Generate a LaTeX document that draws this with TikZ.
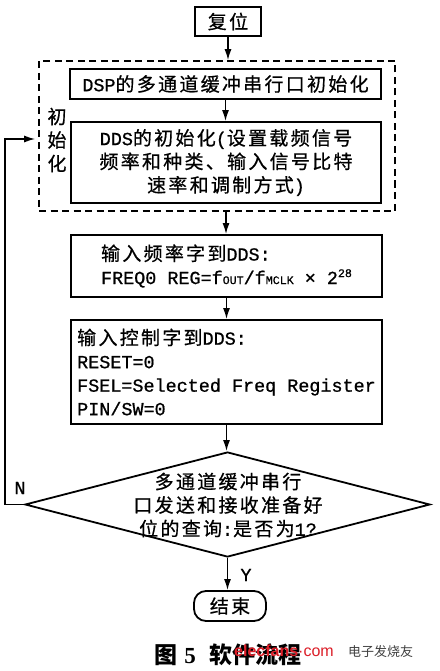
\documentclass[tikz,border=0pt]{standalone}
\usepackage{fontspec}
\usetikzlibrary{shapes.geometric,arrows.meta}
\newfontfamily\cjk[LetterSpace=12,FakeBold=0.6]{Noto Sans CJK SC}
\newfontfamily\cjkplain{Noto Sans CJK SC}
\newfontfamily\latfont[Scale=0.97,FakeBold=0.8]{Liberation Mono}
\newfontfamily\capserif{Liberation Serif}
\newfontfamily\wmsans{Liberation Sans}
\newcommand\latn[1]{{\latfont #1}}
\newcommand\smallcap[1]{{\fontsize{12}{12}\selectfont #1}}
\definecolor{wmred}{RGB}{220,30,40}
\begin{document}
\begin{tikzpicture}[x=1pt,y=-1pt,
  txt/.style={font=\cjk\fontsize{19}{23.5}\selectfont},
  box/.style={draw,line width=1.8pt,rectangle,inner sep=0pt,txt},
  dashbox/.style={draw,line width=1.6pt,dash pattern=on 7pt off 4.5pt,rectangle,inner sep=0pt},
  arr/.style={line width=1.5pt,-{Latex[length=11pt,width=7pt]}},
  lbl/.style={font=\latfont\fontsize{19}{19}\selectfont,inner sep=0pt}]
\fill[white] (0,0) rectangle (439,671);
\useasboundingbox (0,0) rectangle (439,671);
% nodes
\node[box,minimum width=66pt,minimum height=29pt] (reset) at (228,21.5) {复位};
\node[dashbox,minimum width=356pt,minimum height=150pt] (init) at (217,136) {};
\node[box,minimum width=311pt,minimum height=30pt] (dsp) at (225.5,84) {\latn{DSP}的多通道缓冲串行口初始化};
\node[box,minimum width=310pt,minimum height=81pt,align=center] (dds) at (226,162.5)
  {\latn{DDS}的初始化\latn{(}设置载频信号\\频率和种类、输入信号比特\\速率和调制方式\latn{)}};
\node[txt,align=center,inner sep=0pt] (initlbl) at (57,140) {初\\始\\化};
\node[box,minimum width=311pt,minimum height=62pt,align=left] (freq) at (226.5,266)
  {输入频率字到\latn{DDS:}\\\latn{FREQ0 REG=f\smallcap{OUT}/f\smallcap{MCLK} × 2\raisebox{7pt}{\smallcap{28}}}};
\node[box,minimum width=311pt,minimum height=104pt,align=left] (ctrl) at (226.5,372)
  {输入控制字到\latn{DDS:}\\\latn{RESET=0}\\\latn{FSEL=Selected Freq Register}\\\latn{PIN/SW=0}};
\node[diamond,draw,line width=1.8pt,minimum width=405pt,minimum height=105pt,inner sep=0pt] (dec) at (227.5,504.5) {};
\node[txt,align=center,inner sep=0pt] (dectxt) at (228,505) {多通道缓冲串行\\口发送和接收准备好\\位的查询\latn{:}是否为\latn{1?}};
\node[box,rounded corners=12pt,minimum width=72pt,minimum height=30pt] (end) at (230,606) {结束};
\coordinate (loopc) at (5,139);
% connectors
\draw[arr] (reset.south) -- (reset.south |- init.north);
\draw[arr] (dsp.south) -- (dsp.south |- dds.north);
\draw[arr] (dds.south |- init.south) -- (dds.south |- freq.north);
\draw[arr] (freq.south) -- (freq.south |- ctrl.north);
\draw[arr] (ctrl.south) -- (ctrl.south |- dec.north);
\draw[arr] (dec.south) -- (dec.south |- end.north);
\draw[arr] (dec.west) -| (loopc) -- ([xshift=-3pt]init.west |- loopc);
\node[lbl] (nlbl) at (20,488) {N};
\node[lbl] (ylbl) at (246,575) {Y};
% caption
\node[inner sep=0pt] (cap) at (228,655) {{\cjkplain\bfseries\fontsize{23}{23}\selectfont 图}\hspace{7pt}{\capserif\bfseries\fontsize{23}{23}\selectfont 5}\hspace{14pt}{\cjkplain\bfseries\fontsize{23}{23}\selectfont 软件流程}};
\node[inner sep=0pt,anchor=west] (wm) at (234,651) {\color{wmred}\wmsans\fontsize{16}{16}\selectfont\bfseries elecfans\mdseries·com};
\node[inner sep=0pt,anchor=west] (wm2) at (348,652) {\color{black!75}\cjkplain\fontsize{13}{13}\selectfont 电子发烧友};
\end{tikzpicture}
\end{document}
